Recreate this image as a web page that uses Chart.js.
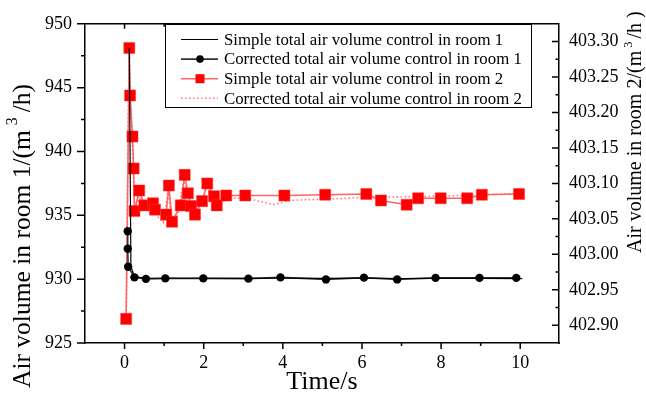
<!DOCTYPE html>
<html>
<head>
<meta charset="utf-8">
<script src="https://cdn.jsdelivr.net/npm/chart.js@4.4.1/dist/chart.umd.min.js"></script>
<style>
  html, body { margin: 0; padding: 0; background: #fff; }
</style>
</head>
<body>
<canvas id="airChart" width="646" height="394"></canvas>
<script>
// legend labels
const seriesNames = [
  "Simple total air volume control in room 1",
  "Corrected total air volume control in room 1",
  "Simple total air volume control in room 2",
  "Corrected total air volume control in room 2"
];

// room 1, simple control (left axis)
const tSimple1 = [0.12, 0.16, 0.25, 0.5, 1, 2, 3, 4, 5, 6, 7, 8, 9, 10.05];
const vSimple1 = [948.1, 931.0, 930.2, 930.08, 930.07, 930.07, 930.06, 930.08, 930.06, 930.08, 930.05, 930.06, 930.06, 930.04];

// room 1, corrected control (left axis)
const tCorr1 = [0.08, 0.08, 0.09, 0.25, 0.54, 1.03, 1.99, 3.13, 3.94, 5.09, 6.05, 6.89, 7.86, 8.97, 9.9];
const vCorr1 = [933.75, 932.38, 930.97, 930.14, 930.02, 930.06, 930.06, 930.04, 930.14, 929.98, 930.12, 929.98, 930.1, 930.1, 930.1];

// room 2, simple control (right axis)
const tSimple2 = [0.04, 0.12, 0.14, 0.2, 0.23, 0.25, 0.37, 0.5, 0.72, 0.77, 1.05, 1.12, 1.2, 1.42, 1.52, 1.6, 1.68, 1.78,
  1.96, 2.09, 2.26, 2.33, 2.57, 3.05, 4.04, 5.07, 6.11, 6.48, 7.13, 7.42, 7.99, 8.66, 9.03, 9.97];
const vSimple2 = [402.909, 403.291, 403.224, 403.166, 403.121, 403.061, 403.09, 403.069, 403.072, 403.063, 403.056, 403.097,
  403.046, 403.069, 403.112, 403.086, 403.068, 403.056, 403.075, 403.1, 403.082, 403.069, 403.083, 403.083, 403.083,
  403.084, 403.085, 403.076, 403.07, 403.079, 403.079, 403.079, 403.084, 403.085];

// room 2, corrected control (right axis)
const tCorr2 = [0.04, 0.11, 0.14, 0.19, 0.22, 0.25, 0.36, 0.5, 0.7, 0.8, 0.98, 1.1, 1.2, 1.32, 1.5, 1.6, 1.7, 1.8,
  1.95, 2.08, 2.25, 2.35, 2.6, 3.17, 3.76, 4.18, 5.11, 6.04, 7.0, 8.0, 9.0, 10.0];
const vCorr2 = [402.909, 403.285, 403.215, 403.16, 403.11, 403.055, 403.082, 403.064, 403.068, 403.055, 403.045, 403.09,
  403.042, 403.05, 403.105, 403.082, 403.062, 403.05, 403.072, 403.095, 403.078, 403.066, 403.08, 403.078, 403.07,
  403.076, 403.078, 403.08, 403.081, 403.082, 403.084, 403.086];

// ticks
const xMajor = [0, 2, 4, 6, 8, 10];
const xMinor = [1, 3, 5, 7, 9];
const yMajor = [925, 930, 935, 940, 945, 950];
const yMinor = [927.5, 932.5, 937.5, 942.5, 947.5];
const y2Major = [402.90, 402.95, 403.00, 403.05, 403.10, 403.15, 403.20, 403.25, 403.30];
const y2Minor = [402.925, 402.975, 403.025, 403.075, 403.125, 403.175, 403.225, 403.275];

const FONT = '"Liberation Serif", "Times New Roman", serif';
Chart.defaults.font.family = FONT;
Chart.defaults.color = '#000';

const pts = (xs, ys) => xs.map((x, i) => ({ x: x, y: ys[i] }));

// tick marks and the top frame line
const frameTicks = {
  id: 'frameTicks',
  afterDraw(chart) {
    const ctx = chart.ctx, a = chart.chartArea;
    const sx = chart.scales.x, sy = chart.scales.y, sy2 = chart.scales.y2;
    ctx.save();
    ctx.strokeStyle = '#000';
    ctx.lineWidth = 1.5;
    ctx.beginPath();
    ctx.moveTo(a.left, a.top); ctx.lineTo(a.right, a.top);
    const tick = (x1, y1, x2, y2) => { ctx.moveTo(x1, y1); ctx.lineTo(x2, y2); };
    xMajor.forEach(v => { const p = sx.getPixelForValue(v); tick(p, a.bottom, p, a.bottom + 6); tick(p, a.top, p, a.top + 5); });
    xMinor.forEach(v => { const p = sx.getPixelForValue(v); tick(p, a.bottom, p, a.bottom + 3); tick(p, a.top, p, a.top + 3); });
    yMajor.forEach(v => { const p = sy.getPixelForValue(v); tick(a.left - 8, p, a.left, p); });
    yMinor.forEach(v => { const p = sy.getPixelForValue(v); tick(a.left - 4, p, a.left, p); });
    y2Major.forEach(v => { const p = sy2.getPixelForValue(v); tick(a.right - 7, p, a.right, p); });
    y2Minor.forEach(v => { const p = sy2.getPixelForValue(v); tick(a.right - 3.5, p, a.right, p); });
    ctx.stroke();
    ctx.restore();
  }
};

// axis titles with superscript
function rotatedTitle(ctx, parts, cx, startY, size) {
  ctx.save();
  ctx.translate(cx, startY);
  ctx.rotate(-Math.PI / 2);
  ctx.textBaseline = 'middle';
  ctx.textAlign = 'left';
  ctx.fillStyle = '#000';
  let x = 0;
  parts.forEach(p => {
    const s = p.sup ? size * 0.62 : size;
    ctx.font = s + 'px ' + FONT;
    ctx.fillText(p.text, x, p.sup ? -size * 0.38 : 0);
    x += ctx.measureText(p.text).width + (p.gap || 0);
  });
  ctx.restore();
}

const axisTitles = {
  id: 'axisTitles',
  afterDraw(chart) {
    const ctx = chart.ctx, a = chart.chartArea;
    ctx.save();
    ctx.fillStyle = '#000';
    ctx.font = '26px ' + FONT;
    ctx.textAlign = 'center';
    ctx.textBaseline = 'middle';
    ctx.fillText('Time/s', (a.left + a.right) / 2, 382);
    ctx.restore();
    rotatedTitle(ctx, [{ text: 'Air volume in room 1/(m', gap: 5 }, { text: '3', sup: true, gap: 5 }, { text: '/h)' }], 23, 388, 25.5);
    rotatedTitle(ctx, [{ text: 'Air volume in room 2/(m', gap: 3 }, { text: '3', sup: true, gap: 3 }, { text: '/h )' }], 636, 253, 20);
  }
};

// boxed legend inside the plot
const boxLegend = {
  id: 'boxLegend',
  afterDraw(chart) {
    const ctx = chart.ctx;
    const x0 = 165, y0 = 24, w = 366, h = 83;
    ctx.save();
    ctx.fillStyle = '#fff';
    ctx.fillRect(x0, y0, w, h);
    ctx.strokeStyle = '#000';
    ctx.lineWidth = 1;
    ctx.strokeRect(x0 + 0.5, y0 + 0.5, w, h);
    chart.data.datasets.forEach((ds, i) => {
      const cy = 39.5 + i * 19.6;
      ctx.strokeStyle = ds.borderColor;
      ctx.lineWidth = ds.borderWidth;
      ctx.setLineDash(ds.borderDash || []);
      ctx.beginPath(); ctx.moveTo(181, cy); ctx.lineTo(218, cy); ctx.stroke();
      ctx.setLineDash([]);
      ctx.fillStyle = ds.pointBackgroundColor;
      if (ds.pointStyle === 'circle' && ds.pointRadius > 0) {
        ctx.beginPath(); ctx.arc(200, cy, 3.8, 0, Math.PI * 2); ctx.fill();
      } else if (ds.pointStyle === 'rect' && ds.pointRadius > 0) {
        ctx.fillRect(195.5, cy - 4.5, 9, 9);
      }
      ctx.fillStyle = '#000';
      ctx.font = '16.8px ' + FONT;
      ctx.textBaseline = 'middle';
      ctx.fillText(ds.label, 224, cy + 1);
    });
    ctx.restore();
  }
};

new Chart("airChart", {
  type: "line",
  data: {
    datasets: [{
      label: seriesNames[0],
      data: pts(tSimple1, vSimple1),
      yAxisID: 'y',
      borderColor: '#000',
      borderWidth: 1.2,
      pointRadius: 0,
      pointStyle: 'line',
      pointBackgroundColor: '#000'
    }, {
      label: seriesNames[1],
      data: pts(tCorr1, vCorr1),
      yAxisID: 'y',
      borderColor: '#333',
      borderWidth: 1.6,
      pointStyle: 'circle',
      pointRadius: 4.2,
      pointBackgroundColor: '#000',
      pointBorderColor: '#000',
      pointBorderWidth: 0
    }, {
      label: seriesNames[2],
      data: pts(tSimple2, vSimple2),
      yAxisID: 'y2',
      borderColor: '#ff6464',
      borderWidth: 1.6,
      pointStyle: 'rect',
      pointRadius: 7.8,
      pointBackgroundColor: '#ff0000',
      pointBorderColor: '#ff3030',
      pointBorderWidth: 0.5
    }, {
      label: seriesNames[3],
      data: pts(tCorr2, vCorr2),
      yAxisID: 'y2',
      borderColor: '#ff7070',
      borderWidth: 1.5,
      borderDash: [1.5, 2.5],
      pointRadius: 0,
      pointStyle: 'line',
      pointBackgroundColor: '#ff7070'
    }]
  },
  options: {
    responsive: false,
    animation: false,
    devicePixelRatio: 1,
    layout: { padding: { top: 19, left: 0, right: 0, bottom: 0 } },
    elements: { line: { tension: 0 } },
    plugins: {
      legend: { display: false },
      tooltip: { enabled: false }
    },
    scales: {
      x: {
        type: 'linear',
        position: 'bottom',
        min: -1,
        max: 10.98,
        grid: { display: false, drawTicks: false },
        border: { display: true, color: '#000', width: 1.5 },
        ticks: { font: { size: 18 }, padding: 9 },
        afterBuildTicks: s => { s.ticks = xMajor.map(v => ({ value: v })); },
        afterFit: s => { s.height = 51; }
      },
      y: {
        type: 'linear',
        position: 'left',
        min: 925,
        max: 950,
        grid: { display: false, drawTicks: false },
        border: { display: true, color: '#000', width: 1.5 },
        ticks: { font: { size: 18 }, padding: 13 },
        afterBuildTicks: s => { s.ticks = yMajor.map(v => ({ value: v })); },
        afterFit: s => { s.width = 85; }
      },
      y2: {
        type: 'linear',
        position: 'right',
        min: 402.875,
        max: 403.325,
        grid: { display: false, drawTicks: false },
        border: { display: true, color: '#000', width: 1.5 },
        ticks: { font: { size: 18 }, padding: 10, callback: v => v.toFixed(2) },
        afterBuildTicks: s => { s.ticks = y2Major.map(v => ({ value: v })); },
        afterFit: s => { s.width = 87; }
      }
    }
  },
  plugins: [frameTicks, axisTitles, boxLegend]
});
</script>
</body>
</html>
